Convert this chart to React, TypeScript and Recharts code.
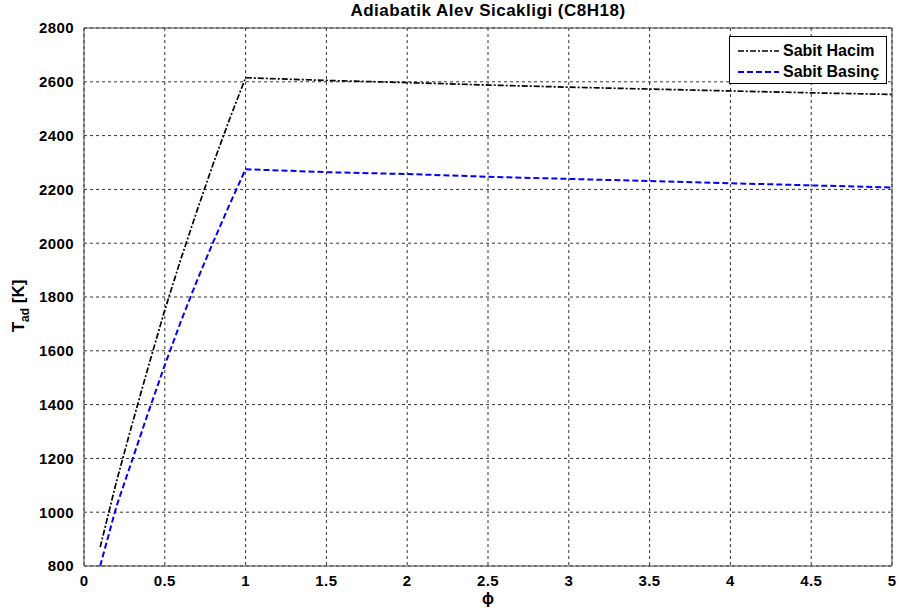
import { LineChart, Line, XAxis, YAxis, CartesianGrid, Legend, ReferenceLine } from 'recharts';

// equivalence ratio and adiabatic flame temperature for C8H18
const phi = [0.1, 0.2, 0.3, 0.4, 0.5, 0.6, 0.7, 0.8, 0.9, 1.0, 1.5, 2.0, 2.5, 3.0, 3.5, 4.0, 4.5, 5.0];
const sabitHacim = [870, 1112, 1332, 1545, 1752, 1942, 2122, 2296, 2460, 2615, 2605, 2597, 2588, 2580, 2573, 2566, 2559, 2553];
const sabitBasinc = [800, 1020, 1197, 1375, 1547, 1710, 1862, 2005, 2143, 2275, 2264, 2257, 2247, 2239, 2231, 2223, 2215, 2207];

const xTicks = [0, 0.5, 1, 1.5, 2, 2.5, 3, 3.5, 4, 4.5, 5];
const yTicks = [800, 1000, 1200, 1400, 1600, 1800, 2000, 2200, 2400, 2600, 2800];

const data = phi.map((p, i) => ({ phi: p, hacim: sabitHacim[i], basinc: sabitBasinc[i] }));

const FONT = '"Liberation Sans", Arial, sans-serif';
const tickStyle = { fontSize: 15, fill: '#000', fontFamily: FONT, fontWeight: 700, letterSpacing: 0.4 };

const series = [
  { key: 'hacim', name: 'Sabit Hacim', color: '#000', dash: '6 2 2 2', width: 1.7 },
  { key: 'basinc', name: 'Sabit Basinç', color: '#0000ff', dash: '6 3', width: 2 },
];

function LegendBox() {
  return (
    <div style={{ border: '1px solid #000', background: '#fff', width: 158, height: 48, boxSizing: 'border-box', fontFamily: FONT, fontSize: 16, fontWeight: 700, paddingTop: 3 }}>
      {series.map((s) => (
        <div key={s.name} style={{ display: 'flex', alignItems: 'center', height: 21 }}>
          <svg width={46} height={10} style={{ marginLeft: 7 }}>
            <line x1={1} y1={5} x2={42} y2={5} stroke={s.color} strokeWidth={s.width} strokeDasharray={s.dash} />
          </svg>
          <span>{s.name}</span>
        </div>
      ))}
    </div>
  );
}

function YLabel(props: any) {
  const { viewBox } = props;
  const cy = viewBox.y + viewBox.height / 2 + 9;
  return (
    <text x={24} y={cy} transform={`rotate(-90, 24, ${cy})`} textAnchor="middle" fontFamily={FONT} fontSize={17} fontWeight={700} fill="#000">
      T<tspan fontSize={12} dy={5}>ad</tspan><tspan dy={-5}> [K]</tspan>
    </text>
  );
}

export default function App() {
  return (
    <div style={{ position: 'absolute', left: 0, top: 0, width: 899, height: 612, background: '#fff' }}>
      <div style={{ position: 'absolute', top: 1, left: 84, width: 808, textAlign: 'center', fontFamily: FONT, fontSize: 17, fontWeight: 700, letterSpacing: 0.5 }}>
        Adiabatik Alev Sicakligi (C8H18)
      </div>
      <div style={{ position: 'absolute', top: 590, left: 84, width: 808, textAlign: 'center', fontFamily: FONT, fontSize: 16, fontWeight: 700 }}>
        ϕ
      </div>
      <LineChart width={899} height={612} data={data} margin={{ top: 28, right: 7, bottom: 0, left: 0 }}>
        <CartesianGrid stroke="#333" strokeDasharray="3 3" />
        <XAxis
          dataKey="phi"
          type="number"
          domain={[0, 5]}
          ticks={xTicks}
          height={46}
          tick={tickStyle}
          tickLine={false}
          tickMargin={3}
          axisLine={{ stroke: '#444' }}
        />
        <YAxis
          type="number"
          domain={[800, 2800]}
          ticks={yTicks}
          width={84}
          tick={tickStyle}
          tickLine={false}
          tickMargin={4}
          axisLine={{ stroke: '#444' }}
          label={<YLabel />}
        />
        <ReferenceLine y={2800} stroke="#444" />
        <ReferenceLine x={5} stroke="#444" />
        {series.map((s) => (
          <Line
            key={s.key}
            dataKey={s.key}
            name={s.name}
            stroke={s.color}
            strokeWidth={s.width}
            strokeDasharray={s.dash}
            dot={false}
            isAnimationActive={false}
          />
        ))}
        <Legend
          layout="horizontal"
          verticalAlign="middle"
          content={<LegendBox />}
          wrapperStyle={{ top: 36, left: 729, width: 158 }}
        />
      </LineChart>
    </div>
  );
}
